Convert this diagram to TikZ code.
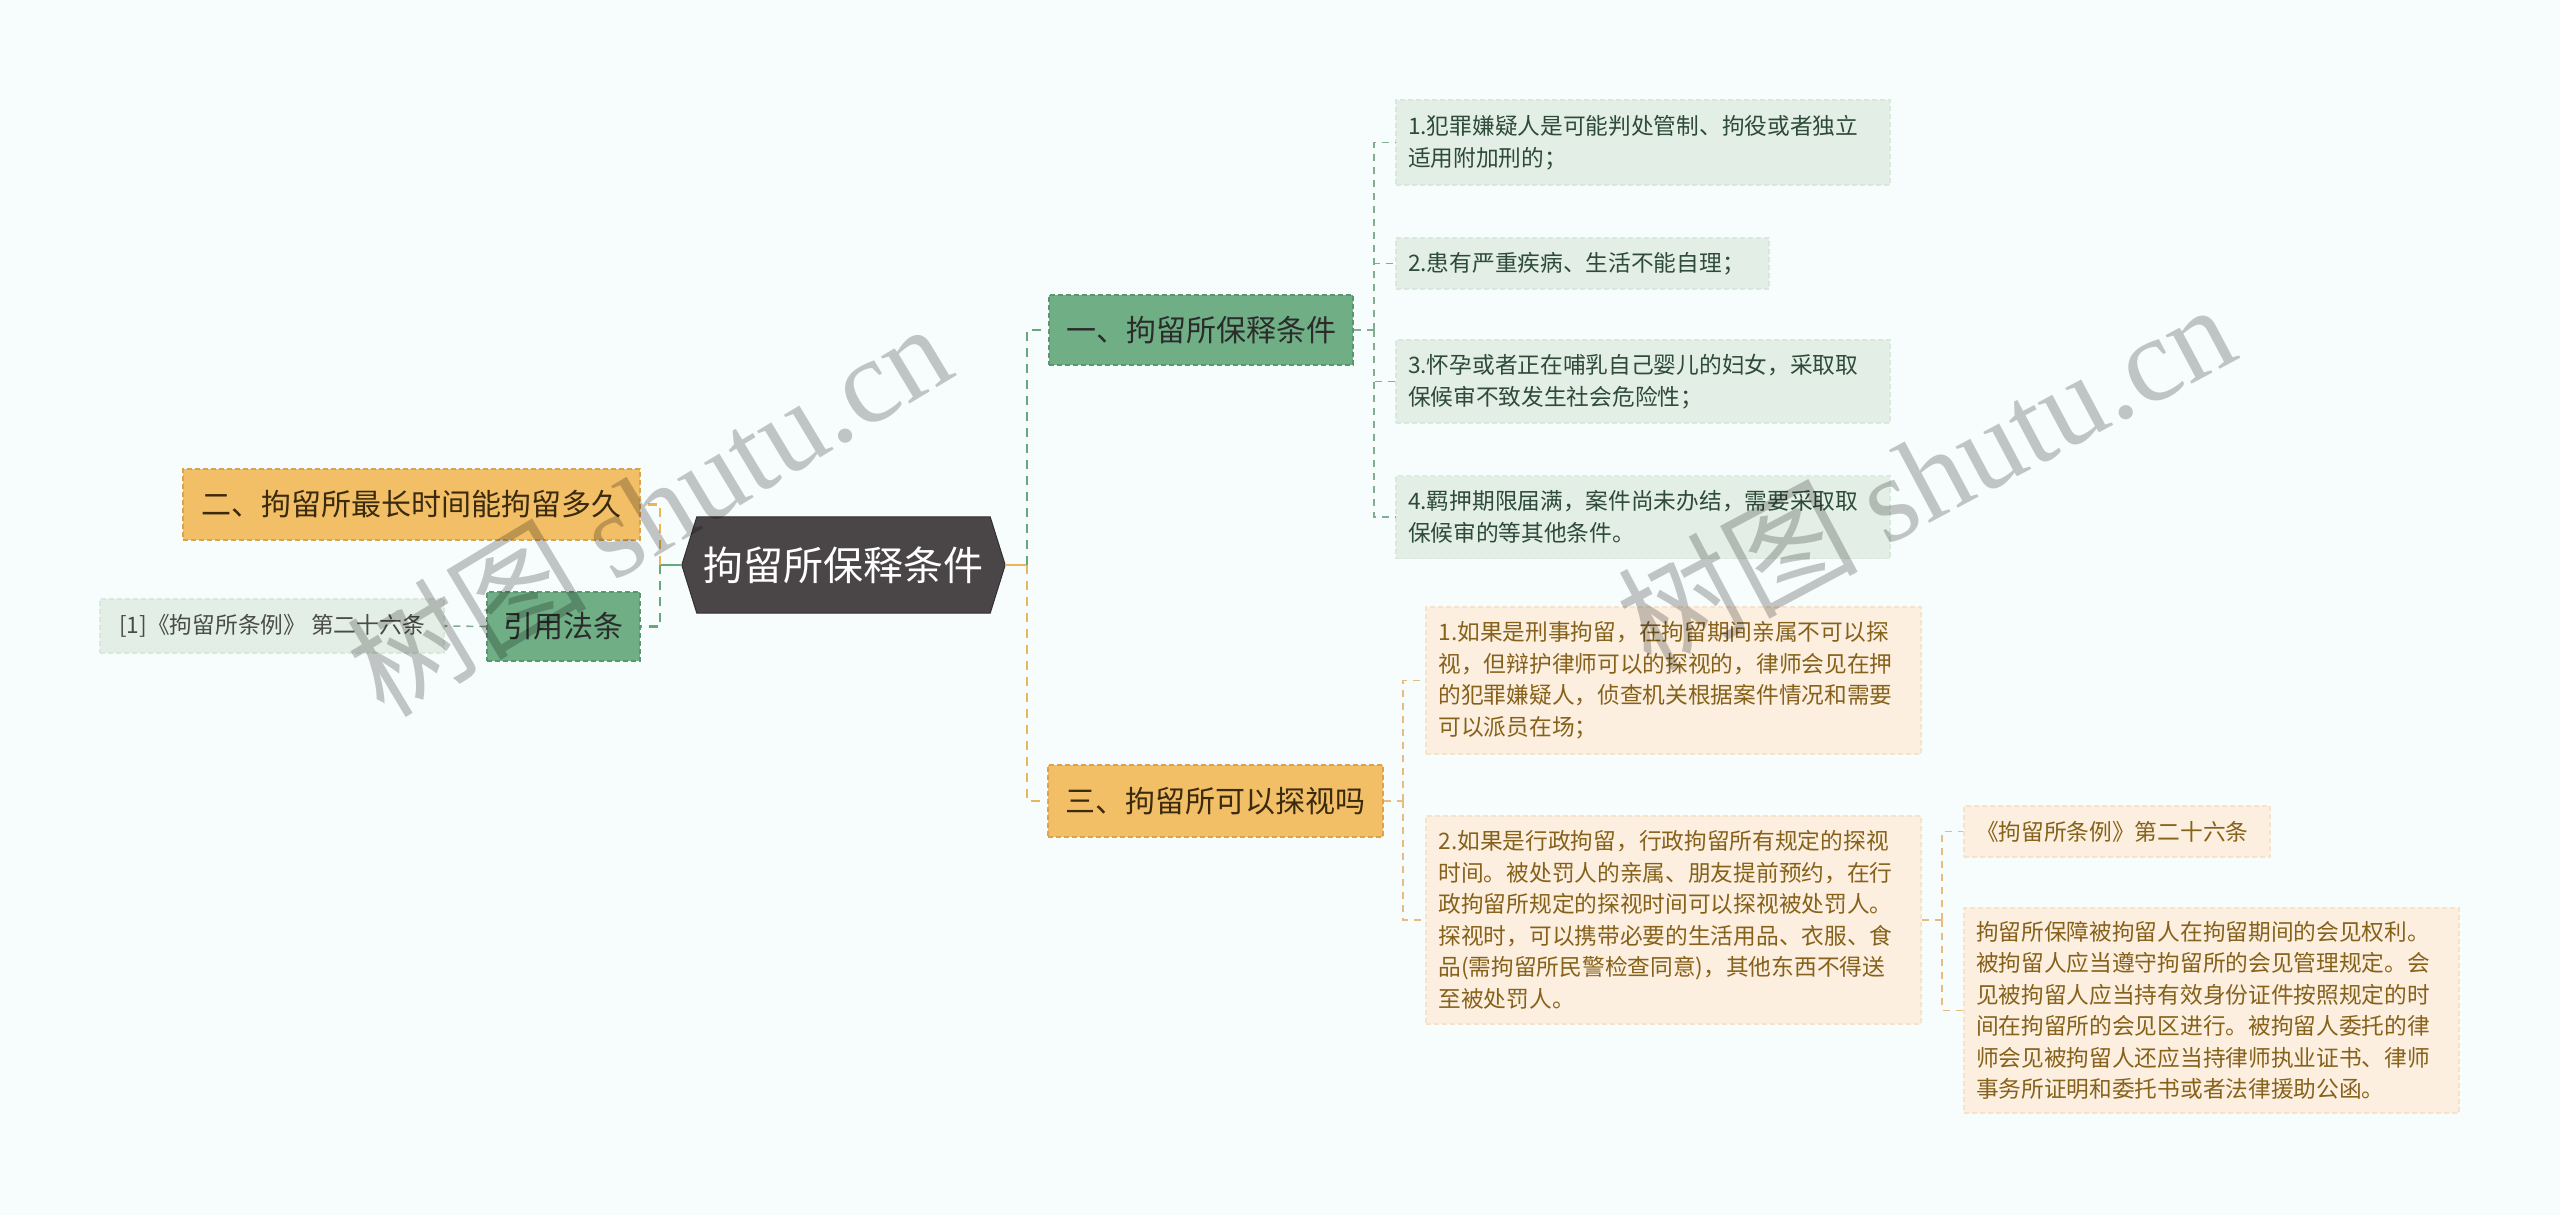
\documentclass[tikz,border=0pt]{standalone}
\usepackage{fontspec}
\setmainfont{Noto Sans CJK SC}
\newfontfamily\wmlatin{Liberation Serif}
\usetikzlibrary{backgrounds}

\definecolor{bgc}{HTML}{F7FCFD}
\definecolor{rootc}{HTML}{4A4546}
\definecolor{gfill}{HTML}{70AF86}
\definecolor{gdraw}{HTML}{5A9770}
\definecolor{ofill}{HTML}{F2BE66}
\definecolor{odraw}{HTML}{DDA24C}
\definecolor{glfill}{HTML}{E3EFE6}
\definecolor{gldraw}{HTML}{D8E8DD}
\definecolor{olfill}{HTML}{FCEFE0}
\definecolor{oldraw}{HTML}{F6E3CC}
\definecolor{gline}{HTML}{66A87E}
\definecolor{oline}{HTML}{EDB558}
\definecolor{glline}{HTML}{80AE8E}
\definecolor{olline}{HTML}{E6BC80}
\definecolor{gtext}{HTML}{2E4A38}
\definecolor{otext}{HTML}{86611A}
\definecolor{btext}{HTML}{2B2B2B}
\definecolor{obtext}{HTML}{3A2A0E}

\tikzset{
  boxbase/.style={rectangle, inner sep=0pt, line width=1.2pt, dash pattern=on 5pt off 3pt},
  branchG/.style={boxbase, fill=gfill, draw=gdraw, text=btext, font=\fontsize{30}{36}\selectfont},
  branchO/.style={boxbase, fill=ofill, draw=odraw, text=obtext, font=\fontsize{30}{36}\selectfont},
  leafG/.style={boxbase, fill=glfill, draw=gldraw, text=gtext, align=left, font=\fontsize{22.7}{31.5}\selectfont},
  leafO/.style={boxbase, fill=olfill, draw=oldraw, text=otext, align=left, font=\fontsize{22.7}{31.5}\selectfont},
  trunkG/.style={draw=gline, line width=2.6pt, dash pattern=on 9pt off 7pt},
  trunkO/.style={draw=oline, line width=2.6pt, dash pattern=on 9pt off 7pt},
  twigG/.style={draw=glline, line width=1.6pt, dash pattern=on 7pt off 6pt},
  twigO/.style={draw=olline, line width=1.6pt, dash pattern=on 7pt off 6pt},
  wmark/.style={text=black, opacity=0.22, inner sep=0pt, font=\fontsize{120}{126}\selectfont}
}

\begin{document}
\begin{tikzpicture}[x=1pt,y=-1pt]
\useasboundingbox (0,0) rectangle (2560,1215);

% central node
\node[rectangle, inner sep=0pt, minimum width=323pt, minimum height=96pt, text=white,
      font=\fontsize{40}{46}\selectfont] (root) at (843.5,565) {拘留所保释条件};
\begin{scope}[on background layer]
\fill[bgc] (0,0) rectangle (2560,1215);
\filldraw[fill=rootc, draw=rootc!70!black, line width=1pt]
  (root.west) -- ([xshift=15pt]root.north west) -- ([xshift=-15pt]root.north east)
  -- (root.east) -- ([xshift=-15pt]root.south east) -- ([xshift=15pt]root.south west) -- cycle;
\end{scope}

% left side
\node[branchO, minimum width=457pt, minimum height=71pt] (two) at (411.5,504.5) {二、拘留所最长时间能拘留多久};
\node[branchG, minimum width=153pt, minimum height=69pt] (cite) at (563.5,626.5) {引用法条};
\node[leafG, text=btext!85!white, minimum width=344pt, minimum height=54pt] (ref) at (272,626) {[1]《拘留所条例》 第二十六条};

% right branches
\node[branchG, minimum width=304pt, minimum height=70pt] (one) at (1201,330) {一、拘留所保释条件};
\node[branchO, minimum width=335pt, minimum height=72pt] (three) at (1215.5,801) {三、拘留所可以探视吗};

% green leaves
\node[leafG, minimum width=494pt, minimum height=85pt, text width=470pt] (l1) at (1643,142.5)
  {1.犯罪嫌疑人是可能判处管制、拘役或者独立\\适用附加刑的；};
\node[leafG, minimum width=373pt, minimum height=51pt, text width=349pt] (l2) at (1582.5,263.5)
  {2.患有严重疾病、生活不能自理；};
\node[leafG, minimum width=494pt, minimum height=83pt, text width=470pt] (l3) at (1643,381.5)
  {3.怀孕或者正在哺乳自己婴儿的妇女，采取取\\保候审不致发生社会危险性；};
\node[leafG, minimum width=494pt, minimum height=83pt, text width=470pt] (l4) at (1643,517)
  {4.羁押期限届满，案件尚未办结，需要采取取\\保候审的等其他条件。};

% orange leaves
\node[leafO, minimum width=495pt, minimum height=147pt, text width=470pt] (o1) at (1673.5,680.5)
  {1.如果是刑事拘留，在拘留期间亲属不可以探\\视，但辩护律师可以的探视的，律师会见在押\\的犯罪嫌疑人，侦查机关根据案件情况和需要\\可以派员在场；};
\node[leafO, minimum width=495pt, minimum height=208pt, text width=470pt] (o2) at (1673.5,920)
  {2.如果是行政拘留，行政拘留所有规定的探视\\时间。被处罚人的亲属、朋友提前预约，在行\\政拘留所规定的探视时间可以探视被处罚人。\\探视时，可以携带必要的生活用品、衣服、食\\品(需拘留所民警检查同意)，其他东西不得送\\至被处罚人。};

\node[leafO, minimum width=306pt, minimum height=51pt, text width=282pt] (r1) at (2117,831.5)
  {《拘留所条例》第二十六条};
\node[leafO, minimum width=495pt, minimum height=205pt, text width=471pt] (r2) at (2211.5,1010.5)
  {拘留所保障被拘留人在拘留期间的会见权利。\\被拘留人应当遵守拘留所的会见管理规定。会\\见被拘留人应当持有效身份证件按照规定的时\\间在拘留所的会见区进行。被拘留人委托的律\\师会见被拘留人还应当持律师执业证书、律师\\事务所证明和委托书或者法律援助公函。};

% junctions
\coordinate (jl) at (660,565);
\coordinate (jr) at (1027,565);
\coordinate (jg) at (1374,330);
\coordinate (jo) at (1403,801);
\coordinate (jq) at (1942,920);

% connectors
\draw[gline, line width=2.6pt] (root.west) -- (jl);
\draw[trunkO] (jl) |- (two.east);
\draw[trunkG] (jl) |- (cite.east);
\draw[twigG] (cite.west) -- (ref.east);

\draw[oline, line width=2.6pt] (root.east) -- (jr);
\draw[trunkG] (jr) |- (one.west);
\draw[trunkO] (jr) |- (three.west);

\draw[twigG] (one.east) -- (jg);
\draw[twigG] (jg) |- (l1.west);
\draw[twigG] (jg) |- (l2.west);
\draw[twigG] (jg) |- (l3.west);
\draw[twigG] (jg) |- (l4.west);

\draw[twigO] (three.east) -- (jo);
\draw[twigO] (jo) |- (o1.west);
\draw[twigO] (jo) |- (o2.west);

\draw[twigO] (o2.east) -- (jq);
\draw[twigO] (jq) |- (r1.west);
\draw[twigO] (jq) |- (r2.west);

% watermarks
\node[wmark, rotate=31] (wm1) at (648,508) {树图 {\wmlatin shutu.cn}};
\node[wmark, rotate=28] (wm2) at (1925,474) {树图 {\wmlatin shutu.cn}};
\end{tikzpicture}
\end{document}
